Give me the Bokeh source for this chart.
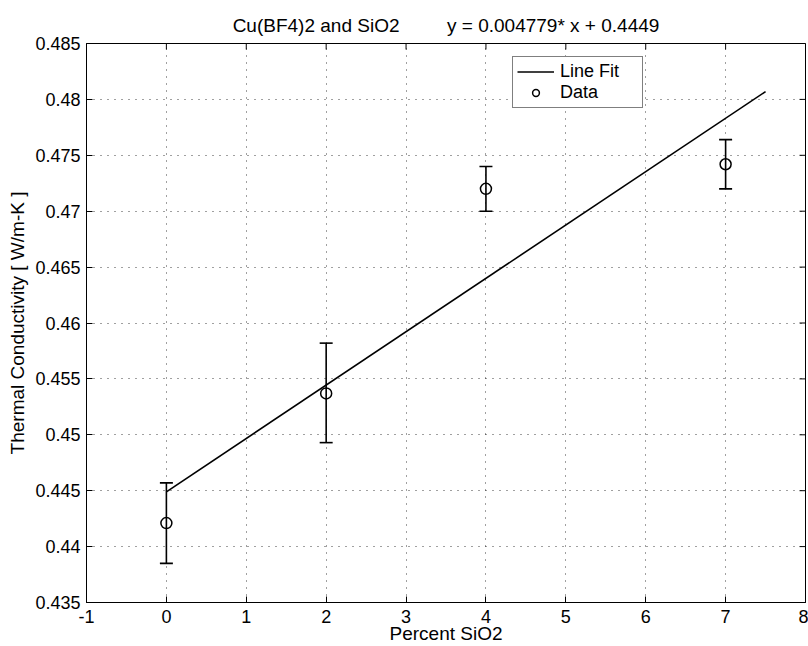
import math
from bokeh.plotting import figure
from bokeh.models import (Range1d, FixedTicker, Whisker, ColumnDataSource,
                          Legend, LegendItem, TeeHead)
from bokeh.embed import file_html
from bokeh.resources import INLINE

# ---- data ----
pct_sio2 = [0, 2, 4, 7]
conductivity = [0.4421, 0.4537, 0.4720, 0.4742]
err_upper = [0.4457, 0.4582, 0.4740, 0.4764]
err_lower = [0.4385, 0.4493, 0.4700, 0.4720]

fit_x = [0, 7.5]
fit_y = [0.4449, 0.4807]

x_ticks = [-1, 0, 1, 2, 3, 4, 5, 6, 7, 8]
x_tick_labels = ["-1", "0", "1", "2", "3", "4", "5", "6", "7", "8"]
y_ticks = [0.435, 0.44, 0.445, 0.45, 0.455, 0.46, 0.465, 0.47, 0.475, 0.48, 0.485]
y_tick_labels = ["0.435", "0.44", "0.445", "0.45", "0.455", "0.46", "0.465",
                 "0.47", "0.475", "0.48", "0.485"]

title_text = "Cu(BF4)2 and SiO2" + "\u00a0" * 9 + "y = 0.004779* x + 0.4449"
x_label = "Percent SiO2"
y_label = "Thermal Conductivity [ W/m-K ]"

FONT = "Liberation Sans"
X_MIN, X_MAX = -1, 8
Y_MIN, Y_MAX = 0.435, 0.485

p = figure(width=808, height=646, output_backend="svg", toolbar_location=None,
           x_range=Range1d(X_MIN, X_MAX), y_range=Range1d(Y_MIN, Y_MAX),
           min_border_left=86, min_border_right=3, min_border_top=43, min_border_bottom=0,
           background_fill_color="white", border_fill_color="white")

p.title.text = title_text
p.title.align = "center"
p.title.text_font = FONT
p.title.text_font_size = "19px"
p.title.text_font_style = "normal"
p.title.text_color = "black"
p.title.standoff = 16

p.outline_line_color = "black"
p.outline_line_width = 1

# main axes
for ax, ticks, labels in ((p.xaxis[0], x_ticks, x_tick_labels), (p.yaxis[0], y_ticks, y_tick_labels)):
    ax.ticker = FixedTicker(ticks=ticks)
    ax.major_label_overrides = {t: l for t, l in zip(ticks, labels)}
    ax.major_tick_in = 6
    ax.major_tick_out = 0
    ax.minor_tick_in = 0
    ax.minor_tick_out = 0
    ax.axis_line_color = "black"
    ax.major_tick_line_color = "black"
    ax.major_label_text_font = FONT
    ax.major_label_text_font_size = "18px"
    ax.major_label_text_color = "black"
    ax.axis_label_text_font = FONT
    ax.axis_label_text_font_size = "19px"
    ax.axis_label_text_font_style = "normal"
    ax.axis_label_text_color = "black"

p.xaxis[0].axis_label = x_label
p.yaxis[0].axis_label = y_label
p.xaxis[0].major_label_standoff = 7
p.yaxis[0].major_label_standoff = 6
p.xaxis[0].axis_label_standoff = -3
p.yaxis[0].axis_label_standoff = 4

# grid
for g in (p.xgrid[0], p.ygrid[0]):
    g.grid_line_color = "black"
    g.grid_line_alpha = 0.75
    g.grid_line_dash = "1 6"
    g.grid_line_width = 1
p.xgrid[0].ticker = FixedTicker(ticks=x_ticks)
p.ygrid[0].ticker = FixedTicker(ticks=y_ticks)

# mirrored inward ticks on the top and right edges of the box (clipped to frame)
p.scatter(x=x_ticks, y=[Y_MAX] * len(x_ticks), marker="dash", angle=math.pi / 2,
          size=12, line_color="black", line_width=1)
p.scatter(x=[X_MAX] * len(y_ticks), y=y_ticks, marker="dash", angle=0,
          size=12, line_color="black", line_width=1)

src = ColumnDataSource(dict(x=pct_sio2, y=conductivity, upper=err_upper, lower=err_lower))

fit = p.line(fit_x, fit_y, line_color="black", line_width=1.6)

whisk = Whisker(source=src, base="x", upper="upper", lower="lower", dimension="height",
                line_color="black", line_width=1.6,
                upper_head=TeeHead(size=13, line_color="black", line_width=1.6),
                lower_head=TeeHead(size=13, line_color="black", line_width=1.6))
p.add_layout(whisk)

pts = p.scatter("x", "y", source=src, marker="circle", size=11, fill_color=None,
                line_color="black", line_width=1.5)

legend = Legend(items=[LegendItem(label="Line Fit", renderers=[fit]),
                       LegendItem(label="Data", renderers=[pts])],
                location=(426, 494), orientation="vertical",
                glyph_width=37, glyph_height=17, label_height=17, label_width=78,
                spacing=0, padding=4, margin=0, label_standoff=6,
                label_text_font=FONT, label_text_font_size="18px", label_text_color="black",
                border_line_color="black", border_line_width=1,
                background_fill_color="white", background_fill_alpha=1.0)
p.add_layout(legend, "center")

open("out.html", "w").write(file_html(p, INLINE))
